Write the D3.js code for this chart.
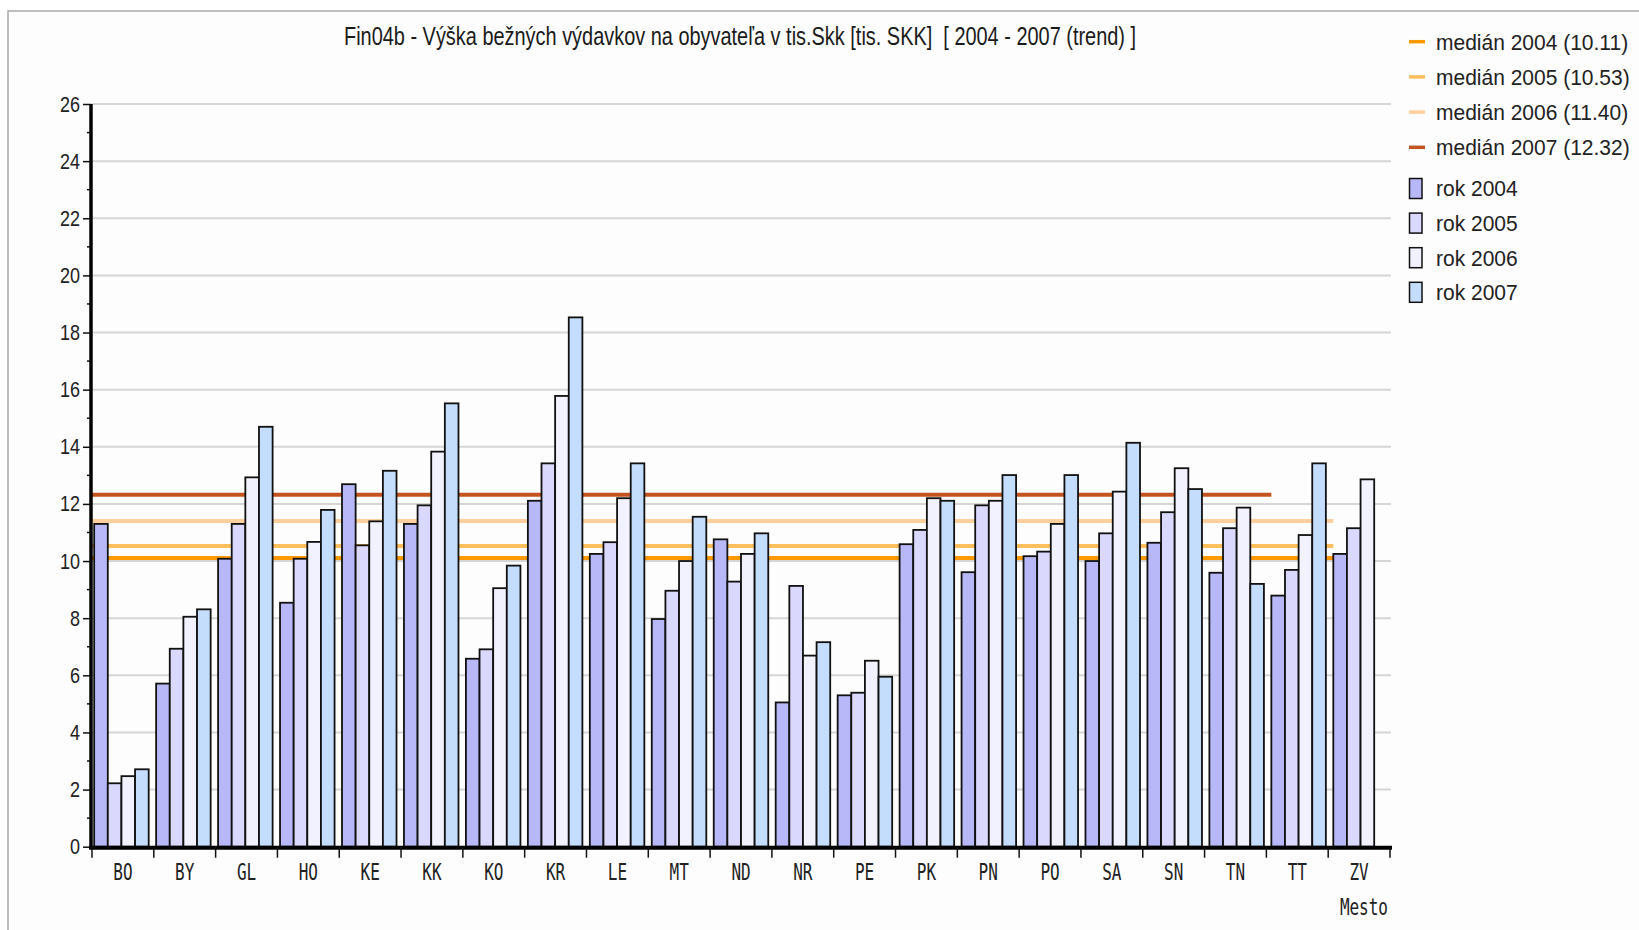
<!DOCTYPE html>
<html>
<head>
<meta charset="utf-8">
<script src="https://cdn.jsdelivr.net/npm/d3@7"></script>
<style>
  body { margin: 0; background: #fff; }
  svg { display: block; }
</style>
</head>
<body>
<div id="chart"></div>
<script>
// data
const cities = ['BO','BY','GL','HO','KE','KK','KO','KR','LE','MT','ND','NR','PE','PK','PN','PO','SA','SN','TN','TT','ZV']
const years = ['2004','2005','2006','2007']
const v2004 = [11.30, 5.71, 10.08, 8.54, 12.69, 11.30, 6.58, 12.11, 10.25, 7.97, 10.76, 5.05, 5.30, 10.59, 9.61, 10.17, 10.00, 10.64, 9.59, 8.79, 10.25]
const v2005 = [2.22, 6.93, 11.30, 10.08, 10.55, 11.95, 6.91, 13.42, 10.66, 8.96, 9.28, 9.13, 5.39, 11.09, 11.95, 10.33, 10.97, 11.71, 11.15, 9.69, 11.15]
const v2006 = [2.47, 8.05, 12.93, 10.67, 11.39, 13.83, 9.05, 15.78, 12.20, 10.00, 10.25, 6.69, 6.51, 12.20, 12.11, 11.30, 12.43, 13.25, 11.87, 10.91, 12.86]
const v2007 = [2.71, 8.31, 14.70, 11.79, 13.16, 15.52, 9.84, 18.53, 13.42, 11.55, 10.97, 7.16, 5.95, 12.11, 13.01, 13.01, 14.14, 12.52, 9.20, 13.42, null]
const medians = [10.11, 10.53, 11.40, 12.32]
const yTicks = [0,2,4,6,8,10,12,14,16,18,20,22,24,26]

const series = [v2004, v2005, v2006, v2007]
const barColors = ['#b8b8f8', '#dad8fc', '#f2f2fe', '#c4ddfc']
const medianColors = ['#ff9900', '#ffbf5c', '#ffcf9e', '#c4541f']

const W = 1639, H = 930
const plotLeft = 92, plotRight = 1390, plotTop = 104, plotBottom = 846.7

const svg = d3.select('#chart').append('svg')
  .attr('width', W).attr('height', H)
  .style('font-family', '"Liberation Sans", Arial, sans-serif')

// frame of the chart panel
svg.append('rect')
  .attr('x', 8).attr('y', 11).attr('width', 1700).attr('height', 1000)
  .attr('fill', '#fdfdfd').attr('stroke', '#a8a8a8').attr('stroke-width', 1.5)

let y = d3.scaleLinear().domain([0, 26]).range([plotBottom, plotTop])
let x = d3.scaleBand().domain(cities).range([plotLeft, plotRight]).paddingInner(0.12).paddingOuter(0.035)
let xs = d3.scaleBand().domain(years).range([0, x.bandwidth()])
let bounds = d3.scaleLinear().domain([0, cities.length]).range([plotLeft, plotRight])

// grid
svg.append('g').selectAll('line')
  .data(yTicks.filter(d => d > 0))
  .join('line')
  .attr('x1', plotLeft).attr('x2', plotRight + 1)
  .attr('y1', d => y(d)).attr('y2', d => y(d))
  .attr('stroke', '#d6d6d6').attr('stroke-width', 2)

// median lines go from the axis to the start of the last city that has a value
medians.forEach(function(m, i) {
  let last = 0
  series[i].forEach(function(v, j) { if (v != null) last = j })
  svg.append('line')
    .attr('x1', plotLeft).attr('x2', x(cities[last]))
    .attr('y1', y(m)).attr('y2', y(m))
    .attr('stroke', medianColors[i]).attr('stroke-width', 4)
})

// bars
let rows = []
cities.forEach(function(c, j) {
  years.forEach(function(yr, i) {
    if (series[i][j] != null) rows.push({city: c, year: yr, i: i, value: series[i][j]})
  })
})

svg.append('g').selectAll('rect')
  .data(rows)
  .join('rect')
  .attr('x', d => x(d.city) + xs(d.year))
  .attr('y', d => y(d.value))
  .attr('width', xs.bandwidth())
  .attr('height', d => y(0) - y(d.value))
  .attr('fill', d => barColors[d.i])
  .attr('stroke', '#111').attr('stroke-width', 1.8)

// y axis, major + minor ticks
let yAxis = svg.append('g')
  .attr('transform', `translate(${plotLeft - 1},0)`)
  .call(d3.axisLeft(y).tickValues(yTicks).tickSize(8).tickPadding(3).tickFormat(d3.format('d')))
yAxis.select('.domain').remove()
yAxis.selectAll('.tick line').attr('stroke', '#111').attr('stroke-width', 1.5)
yAxis.selectAll('.tick text')
  .attr('fill', '#222')
  .style('font-size', '18px')
  .attr('transform', 'scale(1,1.22)')

svg.append('g')
  .attr('transform', `translate(${plotLeft - 1},0)`)
  .selectAll('line')
  .data(d3.range(1, 26, 2))
  .join('line')
  .attr('x1', -4).attr('x2', 0)
  .attr('y1', d => y(d)).attr('y2', d => y(d))
  .attr('stroke', '#111').attr('stroke-width', 1.5)

svg.append('line')
  .attr('x1', plotLeft - 1).attr('x2', plotLeft - 1)
  .attr('y1', plotTop).attr('y2', plotBottom + 2)
  .attr('stroke', '#000').attr('stroke-width', 3.5)

// x axis
svg.append('line')
  .attr('x1', plotLeft - 3).attr('x2', plotRight + 2)
  .attr('y1', plotBottom + 1).attr('y2', plotBottom + 1)
  .attr('stroke', '#000').attr('stroke-width', 4)

svg.append('g').selectAll('line')
  .data(d3.range(0, cities.length + 1))
  .join('line')
  .attr('x1', d => bounds(d)).attr('x2', d => bounds(d))
  .attr('y1', plotBottom).attr('y2', plotBottom + 11)
  .attr('stroke', '#111').attr('stroke-width', 1.5)

svg.append('g').selectAll('text')
  .data(cities)
  .join('text')
  .attr('transform', (d, i) => `translate(${(bounds(i) + bounds(i + 1)) / 2},880) scale(1,1.48)`)
  .attr('text-anchor', 'middle')
  .style('font-family', '"DejaVu Sans Mono", monospace')
  .style('font-size', '16px')
  .attr('fill', '#222')
  .text(d => d)

svg.append('text')
  .attr('transform', 'translate(1388,915) scale(1,1.48)')
  .attr('text-anchor', 'end')
  .style('font-family', '"DejaVu Sans Mono", monospace')
  .style('font-size', '16px')
  .attr('fill', '#222')
  .text('Mesto')

// title
svg.append('text')
  .attr('x', 344).attr('y', 45)
  .attr('textLength', 792).attr('lengthAdjust', 'spacingAndGlyphs')
  .style('font-size', '25.5px')
  .style('white-space', 'pre')
  .attr('fill', '#1a1a1a')
  .text('Fin04b - Výška bežných výdavkov na obyvateľa v tis.Skk [tis. SKK]  [ 2004 - 2007 (trend) ]')

// legend
let legend = svg.append('g')
medians.forEach(function(m, i) {
  let cy = 41.7 + i * 35.2
  legend.append('line')
    .attr('x1', 1409).attr('x2', 1425).attr('y1', cy).attr('y2', cy)
    .attr('stroke', medianColors[i]).attr('stroke-width', 3.5)
  legend.append('text')
    .attr('transform', `translate(1436,${cy}) scale(1,1.08)`)
    .attr('dy', '0.35em')
    .style('font-size', '21px').attr('fill', '#222')
    .text('medián ' + years[i] + ' (' + m.toFixed(2) + ')')
})
years.forEach(function(yr, i) {
  let cy = 188.5 + i * 34.6
  legend.append('rect')
    .attr('x', 1409.5).attr('y', cy - 10).attr('width', 12.5).attr('height', 20)
    .attr('fill', barColors[i]).attr('stroke', '#111').attr('stroke-width', 1.5)
  legend.append('text')
    .attr('transform', `translate(1436,${cy}) scale(1,1.08)`)
    .attr('dy', '0.35em')
    .style('font-size', '21px').attr('fill', '#222')
    .text('rok ' + yr)
})
</script>
</body>
</html>
